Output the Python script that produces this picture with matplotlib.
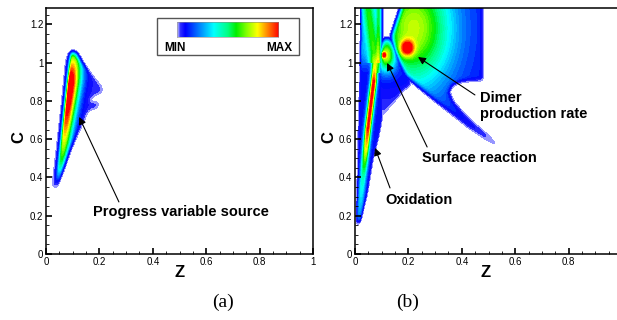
import numpy as np
import matplotlib
matplotlib.use("Agg")
import matplotlib.pyplot as plt
from matplotlib.path import Path
from matplotlib.colors import LinearSegmentedColormap
from matplotlib.patches import Rectangle
from matplotlib.ticker import MultipleLocator, FormatStrFormatter

plt.rcParams['font.family'] = ['Liberation Sans', 'DejaVu Sans']

# ---- outlines (Z, C) of each source region ----
pv_outline_z = [0.028, 0.045, 0.065, 0.079, 0.088, 0.100, 0.112, 0.130, 0.160, 0.190, 0.212,
                0.200, 0.178, 0.158, 0.168, 0.198, 0.190, 0.160, 0.148, 0.140, 0.118, 0.085, 0.052]
pv_outline_c = [0.340, 0.550, 0.800, 1.000, 1.045, 1.052, 1.042, 1.000, 0.950, 0.900, 0.860,
                0.840, 0.830, 0.805, 0.790, 0.790, 0.765, 0.755, 0.730, 0.700, 0.640, 0.540, 0.420]

ox_outline_z = [0.008, 0.012, 0.018, 0.024, 0.024, 0.100, 0.100, 0.087, 0.065, 0.044, 0.019]
ox_outline_c = [0.160, 0.400, 0.800, 1.100, 1.330, 1.330, 0.720, 0.620, 0.500, 0.320, 0.180]

sr_outline_z = [0.092, 0.100, 0.108, 0.120, 0.132, 0.150, 0.168, 0.183, 0.203, 0.205, 0.180,
                0.157, 0.125, 0.100, 0.090, 0.088]
sr_outline_c = [0.980, 1.080, 1.115, 1.128, 1.115, 1.060, 0.995, 0.950, 0.930, 0.885, 0.860,
                0.820, 0.765, 0.720, 0.760, 0.880]

dm_outline_z = [0.187, 0.156, 0.140, 0.152, 0.172, 0.195, 0.300, 0.420, 0.545, 0.420, 0.365,
                0.347, 0.360, 0.390, 0.430, 0.475, 0.476]
dm_outline_c = [1.330, 1.200, 1.135, 1.070, 1.000, 0.935, 0.810, 0.675, 0.555, 0.705, 0.790,
                0.845, 0.885, 0.905, 0.912, 0.912, 1.330]

# ---- peaks: (Z, C, amplitude, width Z, width C) ----
sr_peaks = [(0.107, 1.040, 0.50, 0.007, 0.014), (0.117, 1.040, 0.60, 0.032, 0.080)]
dm_peaks = [(0.195, 1.075, 0.50, 0.025, 0.040), (0.220, 1.180, 0.62, 0.140, 0.300)]

# oxidation ridge along C
ox_ridge_c = [0.16, 0.40, 0.55, 0.65, 0.90, 1.00, 1.05, 1.33]
ox_ridge_z = [0.012, 0.030, 0.041, 0.048, 0.070, 0.075, 0.072, 0.045]
ox_ridge_a = [0.10, 0.32, 0.68, 0.86, 0.88, 0.55, 0.35, 0.30]
ox_base_c = [0.16, 0.95, 1.05, 1.33]
ox_base_v = [0.12, 0.12, 0.28, 0.28]

z = np.linspace(0, 1, 501)
c = np.linspace(0, 1.33, 666)
Z, C = np.meshgrid(z, c)
pts = np.column_stack([Z.ravel(), C.ravel()])


def gauss_blur(a, sz, sc):
    def kern(s):
        n = int(np.ceil(3 * s))
        x = np.arange(-n, n + 1)
        k = np.exp(-0.5 * (x / s) ** 2)
        return k / k.sum()
    kz, kc = kern(sz / (z[1] - z[0])), kern(sc / (c[1] - c[0]))
    a = np.apply_along_axis(lambda r: np.convolve(r, kz, mode='same'), 1, a)
    a = np.apply_along_axis(lambda r: np.convolve(r, kc, mode='same'), 0, a)
    return a


def region(oz, oc, sz=0.007, sc=0.011):
    inside = Path(np.column_stack([oz, oc])).contains_points(pts).reshape(Z.shape)
    return gauss_blur(inside.astype(float), sz, sc)


def peaks(plist):
    out = np.zeros_like(Z)
    for pz, pc, amp, wz, wc in plist:
        out += amp * np.exp(-((Z - pz) / wz) ** 2 - ((C - pc) / wc) ** 2)
    return out


# progress variable source
zl = np.interp(C, [0.34, 1.05], [0.030, 0.086])
zr = zl + 0.016
amp = np.where(C > 0.88, 0.95 * np.exp(-((C - 0.88) / 0.2) ** 2),
               0.95 * np.exp(-((C - 0.88) / 0.45) ** 2))
wr = np.where(Z < zr, 0.010, 0.016 + 0.02 * np.clip((C - 0.34) / 0.56, 0, 1))
pv_tail = 0.06 + 0.08 * np.exp(-((Z - zr) / 0.06) ** 2)
pv_field = region(pv_outline_z, pv_outline_c) * (pv_tail + amp * np.exp(-((Z - zr) / wr) ** 2))

# oxidation
ridge = np.interp(C, ox_ridge_c, ox_ridge_z)
ramp = np.interp(C, ox_ridge_c, ox_ridge_a)
base = np.interp(C, ox_base_c, ox_base_v)
ridge_w = np.where(C > 1.0, 0.02, 0.011)
stripe = 0.25 * np.exp(-((Z - 0.088) / 0.007) ** 2) * (C > 0.95)
ox_field = region(ox_outline_z, ox_outline_c, 0.004, 0.011) * (
    base + ramp * np.exp(-((Z - ridge) / ridge_w) ** 2) + stripe)

# surface reaction lobe, fading into the pale fan below
fan = 0.05 + 0.1 * np.clip((C - 0.75) / 0.25, 0, 1)
sr_field = region(sr_outline_z, sr_outline_c) * (fan + peaks(sr_peaks))

# dimer production rate
dm_field = region(dm_outline_z, dm_outline_c) * (0.12 + peaks(dm_peaks))

right_field = np.maximum(np.maximum(ox_field, sr_field), dm_field)

cmap = LinearSegmentedColormap.from_list('tec', [
    (0.0, '#d8d8ff'), (0.03, '#3030ff'), (0.08, '#0000ff'), (0.2, '#0070ff'),
    (0.36, '#00ffff'), (0.5, '#00ff80'), (0.58, '#00ee00'), (0.68, '#80ff00'),
    (0.79, '#ffff00'), (0.88, '#ff9000'), (1.0, '#ff0000')])
levels = np.linspace(0.02, 1.0, 37)
levels[-1] = 1.5

fig = plt.figure(figsize=(6.17, 3.2), dpi=100)
ax_a = fig.add_axes([0.0746, 0.2063, 0.4327, 0.768])
ax_b = fig.add_axes([0.5754, 0.2063, 0.4246, 0.768])

for ax, field, zmax in [(ax_a, pv_field, 1.0), (ax_b, right_field, 0.981)]:
    ax.contourf(Z, C, np.clip(field, 0, 1), levels=levels, cmap=cmap, vmin=0.02, vmax=1.0)
    ax.set_xlim(0, zmax)
    ax.set_ylim(0, 1.284)
    ax.xaxis.set_major_locator(MultipleLocator(0.2))
    ax.xaxis.set_minor_locator(MultipleLocator(0.05))
    ax.yaxis.set_major_locator(MultipleLocator(0.2))
    ax.yaxis.set_minor_locator(MultipleLocator(0.05))
    ax.xaxis.set_major_formatter(FormatStrFormatter('%g'))
    ax.yaxis.set_major_formatter(FormatStrFormatter('%g'))
    ax.tick_params(which='both', direction='in', labelsize=7, top=False, right=False, pad=2)
    ax.tick_params(which='major', length=4, width=1.2)
    ax.tick_params(which='minor', length=2.2, width=0.6)
    for s in ax.spines.values():
        s.set_linewidth(1.1)
    ax.text(0.5, -0.077, 'Z', transform=ax.transAxes, ha='center', va='center',
            fontsize=12, fontweight='bold')
    ax.text(-0.101, 0.476, 'C', transform=ax.transAxes, ha='center', va='center',
            fontsize=12, fontweight='bold', rotation=90)
ax_b.spines['right'].set_visible(False)

# legend box with colour scale
ax_a.add_patch(Rectangle((0.415, 0.81), 0.533, 0.149, transform=ax_a.transAxes,
                         facecolor='white', edgecolor='#555555', lw=1.0, zorder=5))
cax = ax_a.inset_axes([0.49, 0.883, 0.379, 0.061])
cax.imshow(np.linspace(0, 1, 256)[None, :], cmap=cmap, aspect='auto')
cax.set_xticks([])
cax.set_yticks([])
for s in cax.spines.values():
    s.set_linewidth(0.4)
    s.set_color('#888888')
cax.set_zorder(6)
ax_a.text(0.483, 0.84, 'MIN', transform=ax_a.transAxes, ha='center', va='center',
          fontsize=8.5, fontweight='bold', zorder=7)
ax_a.text(0.873, 0.84, 'MAX', transform=ax_a.transAxes, ha='center', va='center',
          fontsize=8.5, fontweight='bold', zorder=7)

arrow = dict(arrowstyle='-|>', color='black', lw=0.8, mutation_scale=11, shrinkA=0, shrinkB=0)

ax_a.annotate('', xy=(0.124, 0.716), xytext=(0.273, 0.272), arrowprops=arrow)
ax_a.text(0.176, 0.219, 'Progress variable source', ha='left', va='center',
          fontsize=10.5, fontweight='bold')

ax_b.annotate('', xy=(0.236, 1.029), xytext=(0.449, 0.831), arrowprops=arrow)
ax_b.text(0.468, 0.772, 'Dimer\nproduction rate', ha='left', va='center',
          fontsize=10.5, fontweight='bold', linespacing=1.15)
ax_b.annotate('', xy=(0.12, 0.998), xytext=(0.27, 0.559), arrowprops=arrow)
ax_b.text(0.251, 0.502, 'Surface reaction', ha='left', va='center',
          fontsize=10.5, fontweight='bold')
ax_b.annotate('', xy=(0.075, 0.554), xytext=(0.131, 0.345), arrowprops=arrow)
ax_b.text(0.112, 0.282, 'Oxidation', ha='left', va='center',
          fontsize=10.5, fontweight='bold')

fig.text(0.361, 0.056, '(a)', ha='center', va='center', fontsize=14, family='Liberation Serif')
fig.text(0.66, 0.056, '(b)', ha='center', va='center', fontsize=14, family='Liberation Serif')

fig.savefig('out.png', dpi=100)
